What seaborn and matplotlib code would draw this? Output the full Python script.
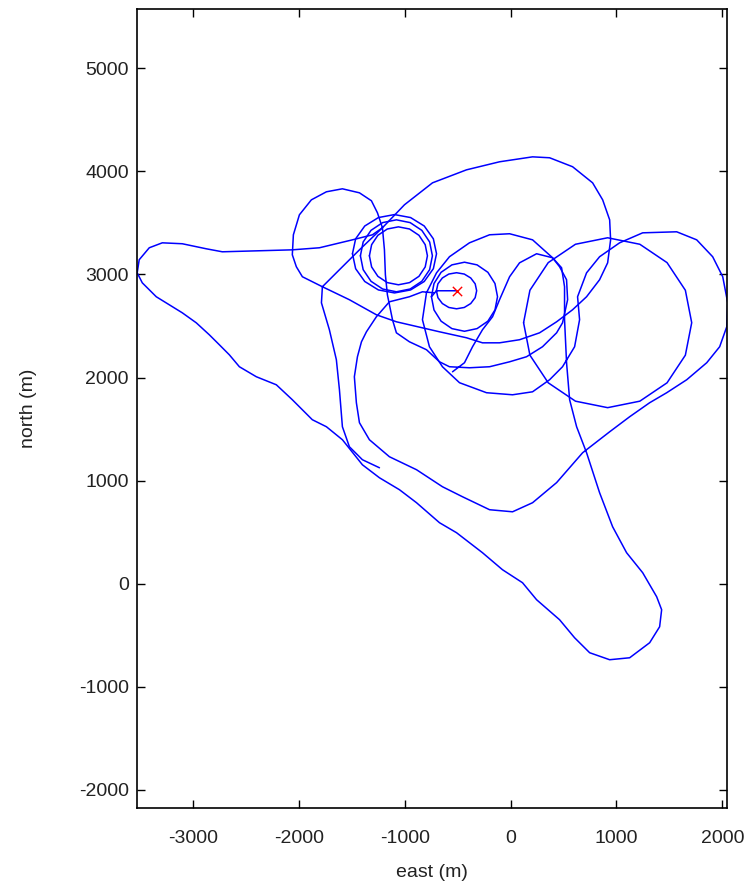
import matplotlib
matplotlib.use("Agg")
import matplotlib.pyplot as plt
import seaborn as sns
import pandas as pd

# ---- data (east, north in metres) ----
seg_end_east = [-1238, -1399, -1522, -1588, -1616, -1645, -1711, -1739, -1786, -1777, -1616, -1427,
                -1210, -1002, -737, -416, -104, 208, 369, 586, 775, 870, 936, 945, 917, 841, 718,
                586, 435, 274, 85, -104, -265, -416, -671, -1078, -1267, -1522, -1777, -1966,
                -2023, -2061, -2051, -1994, -1881, -1739, -1588, -1427, -1314, -1257, -1210]
seg_end_north = [1125, 1203, 1329, 1523, 1882, 2173, 2464, 2561, 2725, 2881, 3046, 3239,
                 3453, 3676, 3889, 4015, 4093, 4141, 4132, 4045, 3889, 3724, 3530, 3336, 3113, 2949, 2784,
                 2658, 2541, 2434, 2367, 2337, 2337, 2386, 2444, 2541, 2609, 2755, 2881, 2978,
                 3075, 3191, 3385, 3579, 3724, 3802, 3831, 3792, 3715, 3598, 3453]

seg_main_east = [-1210, -1304, -1493, -1805, -2061, -2372, -2722, -2873, -3100, -3289, -3412, -3507,
                 -3526, -3478, -3346, -3100, -2968, -2845, -2750, -2656, -2561, -2401, -2212, -2061,
                 -1872, -1739, -1588, -1399, -1238, -1049, -888, -671, -510, -265, -76, 113, 246,
                 463, 605, 747, 936, 1125, 1314, 1408, 1427, 1380, 1248, 1096, 964, 841, 718, 624,
                 558, 529, 510, 510, 482, 397, 208, -9, -198, -388, -577, -699, -794, -832, -766,
                 -643, -482, -227, 19, 208, 369, 491, 605, 652, 633, 718, 841, 1030, 1248, 1569,
                 1758, 1909, 2004, 2051, 2042, 1975, 1853, 1664, 1475, 1314, 1125, 936, 681, 435,
                 208, 19, -198, -454, -643, -888, -1144, -1333, -1427, -1456, -1475, -1446, -1408,
                 -1361, -1267, -1144, -955, -832, -718]
seg_main_north = [3453, 3385, 3336, 3259, 3239, 3230, 3220, 3249, 3298, 3307, 3259, 3143,
                  3016, 2919, 2784, 2628, 2531, 2415, 2318, 2221, 2105, 2008, 1930, 1785,
                  1591, 1523, 1397, 1154, 1028, 912, 786, 592, 495, 301, 136, 10, -155,
                  -349, -524, -669, -737, -718, -572, -417, -252, -126, 107, 301, 553, 883, 1271, 1523,
                  1785, 2144, 2561, 2881, 3065, 3162, 3336, 3395, 3385, 3307, 3172, 3016, 2822, 2561, 2299,
                  2105, 1950, 1853, 1833, 1862, 1979, 2105, 2299, 2561, 2784, 3016, 3172, 3307, 3404, 3414,
                  3336, 3172, 2978, 2725, 2493, 2299, 2144, 1979, 1853, 1756, 1620, 1474, 1271, 981,
                  786, 698, 718, 844, 941, 1106, 1232, 1397, 1562, 1756, 2008, 2202, 2347,
                  2444, 2590, 2735, 2784, 2832, 2822]

seg_s_east = [-1210, -1191, -1182, -1163, -1115, -1078, -955, -794, -671, -577, -388, -198, -9, 151,
              302, 435, 491, 539, 529, 463, 397, 246, 85, -9, -104, -170, -265, -359, -435, -548]
seg_s_north = [3453, 3239, 2997, 2803, 2561, 2434, 2347, 2270, 2153, 2105, 2095, 2105, 2153, 2202,
               2299, 2434, 2531, 2755, 2949, 3075, 3162, 3201, 3113, 2978, 2755, 2590, 2464, 2299, 2144, 2056]

ring_in_east = [-1333, -1312, -1253, -1164, -1059, -954, -865, -806, -785, -806, -865, -954,
                -1059, -1164, -1253, -1312, -1333]
ring_in_north = [3181, 3289, 3380, 3441, 3462, 3441, 3380, 3289, 3181, 3073, 2982, 2921,
                 2900, 2921, 2982, 3073, 3181]
ring_mid_east = [-1418, -1392, -1318, -1208, -1078, -948, -838, -764, -738, -764, -838, -948,
                 -1078, -1208, -1318, -1392, -1418]
ring_mid_north = [3181, 3315, 3428, 3503, 3530, 3503, 3428, 3315, 3181, 3047, 2934, 2859,
                  2832, 2859, 2934, 3047, 3181]
ring_out_east = [-1493, -1463, -1377, -1248, -1096, -944, -815, -729, -699, -729, -815, -944,
                 -1096, -1248, -1377, -1463, -1493]
ring_out_north = [3201, 3346, 3470, 3552, 3581, 3552, 3470, 3346, 3201, 3056, 2932, 2850,
                  2821, 2850, 2932, 3056, 3201]

loop_in_east = [-510, -700, -686, -644, -583, -510, -437, -376, -334, -320, -334, -376, -437,
                -510, -583, -644, -686, -700, -747]
loop_in_north = [2842, 2842, 2909, 2966, 3004, 3017, 3004, 2966, 2909, 2842, 2775, 2718, 2680,
                 2667, 2680, 2718, 2775, 2842, 2784]
loop_out_east = [-747, -723, -656, -554, -435, -316, -214, -147, -123, -147, -214, -316, -435,
                 -554, -656, -723, -747]
loop_out_north = [2784, 2912, 3021, 3093, 3119, 3093, 3021, 2912, 2784, 2656, 2547, 2475, 2449,
                  2475, 2547, 2656, 2784]

circ_right_east = [123, 183, 356, 613, 917, 1221, 1478, 1651, 1711, 1651, 1478, 1221, 917, 613,
                   356, 183, 123]
circ_right_north = [2532, 2847, 3115, 3293, 3356, 3293, 3115, 2847, 2532, 2217, 1949, 1771, 1708,
                    1771, 1949, 2217, 2532]

start_east = [-510]
start_north = [2842]

x_ticks = [-3000, -2000, -1000, 0, 1000, 2000]
y_ticks = [-2000, -1000, 0, 1000, 2000, 3000, 4000, 5000]

segments = [
    (seg_end_east, seg_end_north),
    (seg_main_east, seg_main_north),
    (seg_s_east, seg_s_north),
    (ring_in_east, ring_in_north),
    (ring_mid_east, ring_mid_north),
    (ring_out_east, ring_out_north),
    (loop_in_east, loop_in_north),
    (loop_out_east, loop_out_north),
    (circ_right_east, circ_right_north),
]

sns.set_style("white")
plt.rcParams['font.family'] = ['Liberation Sans', 'DejaVu Sans']

fig = plt.figure(figsize=(7.56, 8.92), dpi=100)
ax = fig.add_axes([0.1812, 0.0942, 0.7804, 0.8957])

for ex, ny in segments:
    df = pd.DataFrame({"east": ex, "north": ny})
    sns.lineplot(data=df, x="east", y="north", sort=False, estimator=None,
                 color=(0, 0, 1), linewidth=1.1, ax=ax)
for ln in ax.lines:
    ln.set_solid_joinstyle("round")

sns.scatterplot(x=start_east, y=start_north, marker="x", color="red", s=45,
                linewidth=1.0, ax=ax, zorder=5)

ax.set_xlim(-3528, 2044)
ax.set_ylim(-2175, 5575)
ax.set_xticks(x_ticks)
ax.set_yticks(y_ticks)
ax.set_xticklabels([str(v) for v in x_ticks])
ax.set_yticklabels([str(v) for v in y_ticks])
ax.set_xlabel("east (m)", fontsize=14, labelpad=12, color="#222222")
ax.set_ylabel("north (m)", fontsize=14, labelpad=30, color="#222222")
ax.tick_params(axis="both", which="both", direction="in", length=6, width=1,
               labelsize=14, top=True, right=True, bottom=True, left=True,
               color="black", labelcolor="#222222")
ax.tick_params(axis="y", pad=6)
ax.tick_params(axis="x", pad=16)
for sp in ax.spines.values():
    sp.set_color("black")
    sp.set_linewidth(1.2)
    sp.set_visible(True)

fig.savefig("out.png", dpi=100, facecolor="white")
